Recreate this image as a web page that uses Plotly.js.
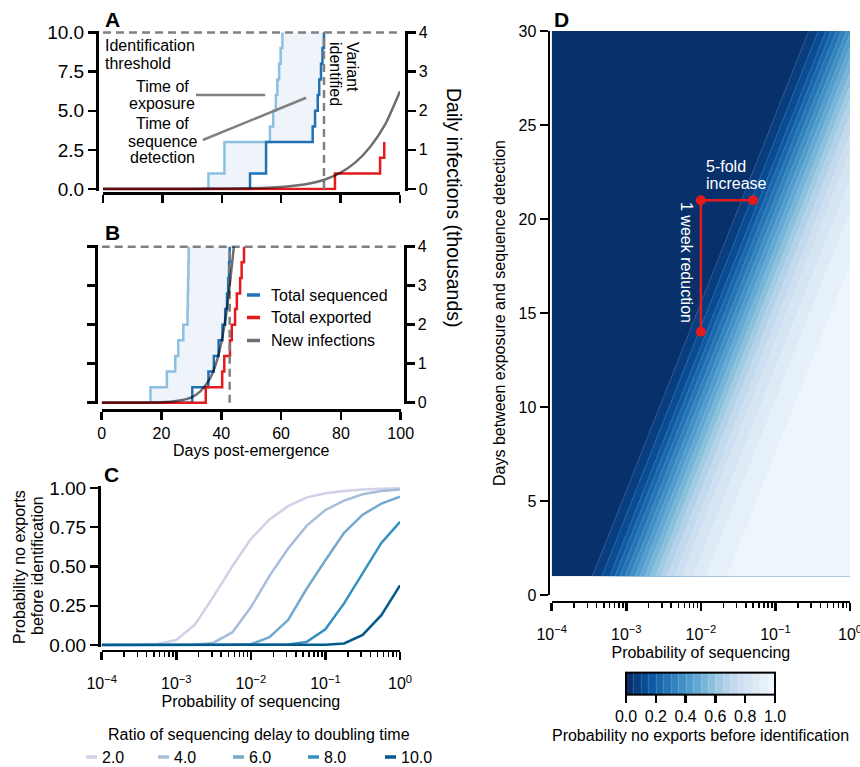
<!DOCTYPE html>
<html><head><meta charset="utf-8">
<script src="https://cdn.plot.ly/plotly-3.0.1.min.js"></script>
<style>html,body{margin:0;padding:0;background:#fff;} #chart{width:860px;height:767px;}</style>
</head><body><div id="chart"></div>
<script>
// ---------------- DATA ----------------
// Panel A (cumulative counts, left axis; infections in thousands, right axis)
const A_exposeDay   = [0, 35.5, 40.9, 56.2, 57.3, 58.2, 58.7, 59.3, 59.8, 60.4];
const A_exposeCount = [0, 1, 3, 4, 5, 6, 7, 8, 9, 10];
const A_seqDay      = [0, 49.5, 54.9, 70.6, 71.4, 72.3, 72.8, 73.4, 73.9, 74.4];
const A_seqCount    = [0, 1, 3, 4, 5, 6, 7, 8, 9, 10];
const A_exportDay   = [0, 78.1, 93.3, 94.7];
const A_exportCount = [0, 1, 2, 3];
const A_infectDay   = [0, 20, 30, 40, 50, 60, 65, 70, 75, 80, 85, 90, 95, 100];
const A_infectK     = [0, 0.001, 0.003, 0.008, 0.02, 0.055, 0.09, 0.15, 0.25, 0.42, 0.68, 1.08, 1.65, 2.5];
const A_identDay    = 74.4;

// Panel B
const B_exposeDay   = [0, 16.3, 21.8, 24.6, 25.6, 27.3, 28.7, 28.8, 28.9, 29.0, 29.1];
const B_seqDay      = [0, 30.3, 35.7, 37.5, 39.1, 40.4, 41.3, 41.9, 42.3, 42.6, 42.8];
const B_exportDay   = [0, 34.8, 40.3, 41.0, 42.9, 43.5, 44.6, 45.2, 46.3, 46.8, 47.6];
const B_count       = [0, 1, 2, 3, 4, 5, 6, 7, 8, 9, 10];
const B_infectDay   = [0, 10, 20, 25, 30, 33, 36, 38, 40, 42, 44.2];
const B_infectK     = [0, 0.001, 0.013, 0.044, 0.14, 0.29, 0.59, 0.95, 1.54, 2.47, 4.0];
const B_identDay    = 42.8;

const threshold = 10;

// Panel C (x = log10 probability of sequencing)
const C_logp = [-4, -3.75, -3.5, -3.25, -3, -2.75, -2.5, -2.25, -2, -1.75, -1.5, -1.25, -1, -0.75, -0.5, -0.25, 0];
const C_ratios = ['2.0', '4.0', '6.0', '8.0', '10.0'];
const C_r2  = [0, 0, 0.001, 0.006, 0.032, 0.13, 0.31, 0.50, 0.675, 0.80, 0.885, 0.94, 0.966, 0.98, 0.99, 0.995, 0.999];
const C_r4  = [0, 0, 0, 0, 0, 0.002, 0.015, 0.08, 0.24, 0.44, 0.615, 0.76, 0.86, 0.92, 0.96, 0.98, 0.99];
const C_r6  = [0, 0, 0, 0, 0, 0, 0, 0.002, 0.005, 0.05, 0.16, 0.36, 0.54, 0.715, 0.83, 0.90, 0.945];
const C_r8  = [0, 0, 0, 0, 0, 0, 0, 0, 0, 0, 0.003, 0.02, 0.10, 0.265, 0.455, 0.65, 0.785];
const C_r10 = [0, 0, 0, 0, 0, 0, 0, 0, 0, 0, 0, 0, 0.002, 0.01, 0.064, 0.19, 0.38];

// Panel D (rows: days between exposure and detection; columns: log10 probability of sequencing)
const D_logp  = [-4, -3.75, -3.5, -3.25, -3, -2.75, -2.5, -2.25, -2, -1.75, -1.5, -1.25, -1, -0.75, -0.5, -0.25, 0];
const D_delay = [1, 3.5, 6, 8.5, 11, 13.5, 16, 18.5, 21, 23.5, 26, 28.5, 31];
const D_z = [
 [0.001,0.006,0.032,0.13,0.31,0.5,0.675,0.8,0.885,0.94,0.966,0.98,0.99,0.995,0.998,0.999,1],
 [0,0.001,0.006,0.032,0.13,0.31,0.5,0.675,0.8,0.885,0.94,0.966,0.98,0.99,0.995,0.998,0.999],
 [0,0,0.001,0.006,0.032,0.13,0.31,0.5,0.675,0.8,0.885,0.94,0.966,0.98,0.99,0.995,0.998],
 [0,0,0,0.001,0.006,0.032,0.13,0.31,0.5,0.675,0.8,0.885,0.94,0.966,0.98,0.99,0.995],
 [0,0,0,0,0.001,0.006,0.032,0.13,0.31,0.5,0.675,0.8,0.885,0.94,0.966,0.98,0.99],
 [0,0,0,0,0,0.001,0.006,0.032,0.13,0.31,0.5,0.675,0.8,0.885,0.94,0.966,0.98],
 [0,0,0,0,0,0,0.001,0.006,0.032,0.13,0.31,0.5,0.675,0.8,0.885,0.94,0.966],
 [0,0,0,0,0,0,0,0.001,0.006,0.032,0.13,0.31,0.5,0.675,0.8,0.885,0.94],
 [0,0,0,0,0,0,0,0,0.001,0.006,0.032,0.13,0.31,0.5,0.675,0.8,0.885],
 [0,0,0,0,0,0,0,0,0,0.001,0.006,0.032,0.13,0.31,0.5,0.675,0.8],
 [0,0,0,0,0,0,0,0,0,0,0.001,0.006,0.032,0.13,0.31,0.5,0.675],
 [0,0,0,0,0,0,0,0,0,0,0,0.001,0.006,0.032,0.13,0.31,0.5],
 [0,0,0,0,0,0,0,0,0,0,0,0,0.001,0.006,0.032,0.13,0.31]
];
const D_pathP    = [0.05, 0.01, 0.01];
const D_pathDays = [21, 21, 14];

// ---------------- HELPERS ----------------
const W = 860, H = 767;
const px = v => v / W;
const py = v => 1 - v / H;
const FONT = 'Liberation Sans, Arial, Helvetica, sans-serif';
const LIGHT = '#8dbfe0', DARK = '#2171b5', RED = '#e41a1c', GREYC = 'rgba(0,0,0,0.57)', DASH = '#808080';
const FILL = '#eef4fa';
const C_colors = ['#d0d1e6', '#a6bddb', '#74a9cf', '#3690c0', '#045a8d'];

function hvVerts(days, counts) {
  const xs = [], ys = [];
  for (let i = 1; i < days.length; i++) {
    xs.push(days[i]); ys.push(counts[i - 1]);
    xs.push(days[i]); ys.push(counts[i]);
  }
  return {xs, ys};
}
function bandPolygon(d1, c1, d2, c2) {
  const a = hvVerts(d1, c1), b = hvVerts(d2, c2);
  return {x: a.xs.concat(b.xs.slice().reverse()), y: a.ys.concat(b.ys.slice().reverse())};
}
const stepLine = (x, y, color, xa, ya) => ({type:'scatter', mode:'lines', x, y, xaxis:xa, yaxis:ya,
  line:{color, width:2.5, shape:'hv'}, hoverinfo:'skip'});

const traces = [];
function panelTimeline(exDay, exCnt, sqDay, sqCnt, epDay, epCnt, infD, infK, ident, xa, yL, yR) {
  const poly = bandPolygon(exDay, exCnt, sqDay, sqCnt);
  traces.push({type:'scatter', mode:'lines', x:poly.x, y:poly.y, xaxis:xa, yaxis:yL, fill:'toself',
    fillcolor:FILL, line:{width:0, color:FILL}, hoverinfo:'skip'});
  traces.push(stepLine(exDay, exCnt, LIGHT, xa, yL));
  traces.push(stepLine(sqDay, sqCnt, DARK, xa, yL));
  traces.push(stepLine(epDay, epCnt, RED, xa, yL));
  traces.push({type:'scatter', mode:'lines', x:infD, y:infK, xaxis:xa, yaxis:yR,
    line:{color:GREYC, width:2.5, shape:'spline', smoothing:0.6}, hoverinfo:'skip'});
  traces.push({type:'scatter', mode:'lines', x:[0, 101.5], y:[threshold, threshold], xaxis:xa, yaxis:yL,
    line:{color:DASH, width:2.5, dash:'8px,5px'}, hoverinfo:'skip'});
  traces.push({type:'scatter', mode:'lines', x:[ident, ident], y:[0, threshold], xaxis:xa, yaxis:yL,
    line:{color:DASH, width:2.5, dash:'8px,5px'}, hoverinfo:'skip'});
}
panelTimeline(A_exposeDay, A_exposeCount, A_seqDay, A_seqCount, A_exportDay, A_exportCount,
  A_infectDay, A_infectK, A_identDay, 'x', 'y', 'y2');
panelTimeline(B_exposeDay, B_count, B_seqDay, B_count, B_exportDay, B_count,
  B_infectDay, B_infectK, B_identDay, 'x2', 'y3', 'y4');

// Panel C
const C_p = C_logp.map(v => Math.pow(10, v));
[C_r2, C_r4, C_r6, C_r8, C_r10].forEach((ys, i) => {
  traces.push({type:'scatter', mode:'lines', x:C_p, y:ys, xaxis:'x3', yaxis:'y5', name:C_ratios[i],
    line:{color:C_colors[i], width:2.5}, hoverinfo:'skip'});
});

// Panel D
const blues = [[0,'#08306b'],[0.125,'#08519c'],[0.25,'#2171b5'],[0.375,'#4292c6'],[0.5,'#6baed6'],
  [0.625,'#9ecae1'],[0.75,'#c6dbef'],[0.875,'#dbe9f6'],[1,'#eef5fc']];
traces.push({type:'contour', x:D_logp.map(v => Math.pow(10, v)), y:D_delay, z:D_z, xaxis:'x4', yaxis:'y6',
  colorscale:blues, zmin:0, zmax:1, autocontour:false,
  contours:{start:0.05, end:0.95, size:0.05, coloring:'fill', showlines:true},
  line:{width:0.6, color:'rgba(255,255,255,0.3)', smoothing:0},
  hoverinfo:'skip',
  colorbar:{orientation:'h', x:px(700.5), xanchor:'center', y:py(709), yanchor:'middle',
    len:149, lenmode:'pixels', thickness:22, thicknessmode:'pixels', xpad:0, ypad:0,
    outlinewidth:2, outlinecolor:'#000', ticks:'outside', ticklen:8, tickwidth:2.5, tickcolor:'#000',
    tickvals:[0,0.2,0.4,0.6,0.8,1], ticktext:['0.0','0.2','0.4','0.6','0.8','1.0'],
    tickfont:{size:16, color:'#000', family:FONT},
    title:{text:'Probability no exports before identification', side:'bottom', font:{size:16, color:'#000', family:FONT}}}
});
traces.push({type:'scatter', mode:'lines+markers', x:D_pathP, y:D_pathDays, xaxis:'x4', yaxis:'y6',
  line:{color:RED, width:2.5}, marker:{color:RED, size:10}, hoverinfo:'skip'});

// ---------------- LAYOUT ----------------
const axBase = {showgrid:false, zeroline:false, showline:true, linecolor:'#000', linewidth:2.5,
  ticks:'outside', ticklen:8, tickwidth:2.5, tickcolor:'#000', tickfont:{size:16, color:'#000'},
  fixedrange:true, anchor:'free'};
const minorVals = [];
for (let e = -4; e < 0; e++) for (let k = 2; k <= 9; k++) minorVals.push(k * Math.pow(10, e));
const logTicks = {type:'log', range:[-4, 0], tickvals:[1e-4, 1e-3, 1e-2, 1e-1, 1],
  ticktext:['10<sup>−4</sup>','10<sup>−3</sup>','10<sup>−2</sup>','10<sup>−1</sup>','10<sup>0</sup>'],
  ticklabelstandoff:10, ticklabeloverflow:'allow',
  minor:{tickvals:minorVals, ticks:'outside', ticklen:4.5, tickwidth:1.5, tickcolor:'#000'}};

const yTicksA = {tickvals:[0, 2.5, 5, 7.5, 10], ticktext:['0.0','2.5','5.0','7.5','10.0']};

const layout = {
  width:W, height:H, margin:{l:0, r:0, t:0, b:0}, showlegend:false,
  paper_bgcolor:'#fff', plot_bgcolor:'rgba(0,0,0,0)',
  font:{family:FONT, size:16, color:'#000'},
  // Panel A
  xaxis:{...axBase, domain:[px(103), px(400)], range:[0, 100], tickvals:[0,20,40,60,80,100],
    showticklabels:false, position:py(193)},
  yaxis:{...axBase, ...yTicksA, tickfont:{size:19, color:'#000'}, domain:[py(190.6), py(30.9)], range:[-0.1, 10.1], position:px(97)},
  yaxis2:{...axBase, domain:[py(190.6), py(30.9)], overlaying:'y', side:'right', range:[-0.04, 4.04],
    tickvals:[0,1,2,3,4], position:px(406)},
  // Panel B
  xaxis2:{...axBase, domain:[px(101.7), px(400.7)], range:[0, 100], tickvals:[0,20,40,60,80,100],
    position:py(410), title:{text:'Days post-emergence', font:{size:16}, standoff:2}},
  yaxis3:{...axBase, ...yTicksA, showticklabels:false, domain:[py(404.3), py(245.1)], range:[-0.1, 10.1], position:px(96)},
  yaxis4:{...axBase, domain:[py(404.3), py(245.1)], overlaying:'y3', side:'right', range:[-0.04, 4.04],
    tickvals:[0,1,2,3,4], position:px(405)},
  // Panel C
  xaxis3:{...axBase, ...logTicks, domain:[px(101.7), px(400)], position:py(650.7),
    title:{text:'Probability of sequencing', font:{size:16}, standoff:4}},
  yaxis5:{...axBase, domain:[py(646.6), py(486.4)], range:[-0.01, 1.01], position:px(99),
    tickvals:[0,0.25,0.5,0.75,1], ticktext:['0.00','0.25','0.50','0.75','1.00'], tickfont:{size:19, color:'#000'}},
  // Panel D
  xaxis4:{...axBase, ...logTicks, domain:[px(551.7), px(850)], position:py(601.5),
    title:{text:'Probability of sequencing', font:{size:16}, standoff:4}},
  yaxis6:{...axBase, domain:[py(595), py(31)], range:[0, 30], tickvals:[0,5,10,15,20,25,30], position:px(548.5),
    title:{text:'Days between exposure and sequence detection', font:{size:16}, standoff:8}},
  shapes:[
    // leader lines (panel A)
    {type:'line', xref:'x', yref:'y', x0:31.3, y0:6.0, x1:54.6, y1:6.0, line:{color:'#808080', width:2.5}},
    {type:'line', xref:'x', yref:'y', x0:33.6, y0:3.13, x1:68.4, y1:5.83, line:{color:'#808080', width:2.5}},
    // legend samples (panel B)
    {type:'line', xref:'paper', yref:'paper', x0:px(247), x1:px(260), y0:py(295), y1:py(295), line:{color:DARK, width:3.5}},
    {type:'line', xref:'paper', yref:'paper', x0:px(247), x1:px(260), y0:py(317.5), y1:py(317.5), line:{color:RED, width:3.5}},
    {type:'line', xref:'paper', yref:'paper', x0:px(247), x1:px(260), y0:py(340.5), y1:py(340.5), line:{color:'#6e6e6e', width:3.5}}
  ],
  annotations:[]
};
// Panel C legend samples
const C_legX = [86, 158, 233, 308, 385];
C_legX.forEach((x, i) => {
  layout.shapes.push({type:'line', xref:'paper', yref:'paper', x0:px(x), x1:px(x + 11), y0:py(757), y1:py(757),
    line:{color:C_colors[i], width:3.5}});
  layout.annotations.push({xref:'paper', yref:'paper', x:px(x + 14), y:py(757), xanchor:'left', yanchor:'middle',
    text:C_ratios[i], showarrow:false, font:{size:16}});
});
const ann = (x, y, text, opts) => Object.assign({xref:'paper', yref:'paper', x:px(x), y:py(y), text,
  showarrow:false, font:{size:16, color:'#000'}}, opts || {});
const L = {xanchor:'left', yanchor:'middle'}, C = {xanchor:'center', yanchor:'middle'};
const WHITE = {size:16, color:'#fff'};
layout.annotations.push(
  ann(103, 19, '<b>A</b>', {...L, font:{size:21}}),
  ann(103, 232, '<b>B</b>', {...L, font:{size:21}}),
  ann(102, 475, '<b>C</b>', {...L, font:{size:21}}),
  ann(552, 19, '<b>D</b>', {...L, font:{size:21}}),
  ann(103, 46, 'Identification', L),
  ann(103, 63, 'threshold', L),
  ann(162, 86.5, 'Time of', C),
  ann(162, 103, 'exposure', C),
  ann(162, 124, 'Time of', C),
  ann(162, 141, 'sequence', C),
  ann(162, 157.5, 'detection', C),
  ann(352, 40, 'Variant', {xanchor:'center', yanchor:'top', textangle:90}),
  ann(335, 40, 'identified', {xanchor:'center', yanchor:'top', textangle:90}),
  ann(454, 208, 'Daily infections (thousands)', {...C, textangle:90, font:{size:19.5}}),
  ann(269, 295, 'Total sequenced', L),
  ann(269, 317.5, 'Total exported', L),
  ann(269, 340.5, 'New infections', L),
  ann(19, 567, 'Probability no exports', {...C, textangle:-90}),
  ann(37, 566, 'before identification', {...C, textangle:-90}),
  ann(259, 734, 'Ratio of sequencing delay to doubling time', C),
  ann(704, 166, '5-fold', {...L, font:WHITE}),
  ann(704, 183, 'increase', {...L, font:WHITE}),
  ann(686, 262, '1 week reduction', {...C, textangle:90, font:WHITE})
);

Plotly.newPlot('chart', traces, layout, {staticPlot:true, displayModeBar:false});
</script>
</body></html>
